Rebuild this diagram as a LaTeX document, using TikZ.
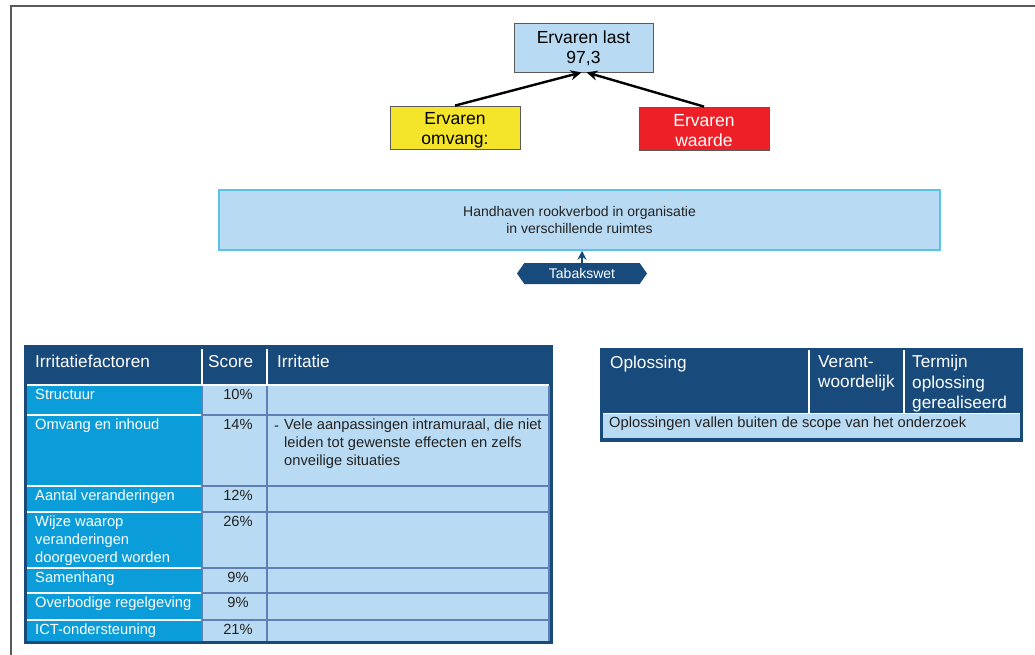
\documentclass[tikz,border=0pt]{standalone}
\usepackage{fontspec}
\setmainfont{Liberation Sans}
\usetikzlibrary{arrows.meta,shapes.symbols}
\definecolor{dkblue}{HTML}{184A7C}
\definecolor{cyanb}{HTML}{0A9DD9}
\definecolor{ltblue}{HTML}{B8DAF2}
\definecolor{gridc}{HTML}{5E80B4}
\definecolor{yelb}{HTML}{F5E52A}
\definecolor{redb}{HTML}{ED2028}
\definecolor{framec}{HTML}{5A5A5A}
\definecolor{hhborder}{HTML}{5BC3EA}
\definecolor{txt}{HTML}{222222}
\tikzset{
  topbox/.style={draw=framec, line width=0.8pt, minimum width=130pt, minimum height=43pt, align=center, inner sep=0pt, font=\fontsize{17.5}{20}\selectfont},
  hdr/.style={anchor=base west, inner sep=0pt, text=white, font=\fontsize{17.2}{20.5}\selectfont, align=left},
  fcell/.style={anchor=north west, inner sep=0pt, text=white, font=\fontsize{14.7}{17.6}\selectfont, align=left},
  scell/.style={anchor=north, inner sep=0pt, text=txt, font=\fontsize{14.7}{17.6}\selectfont},
  icell/.style={anchor=north west, inner sep=0pt, text=txt, font=\fontsize{14.7}{17.6}\selectfont, align=left},
  bigarrow/.style={line width=2.4pt, -{Stealth[length=11pt,width=10pt]}},
}
\begin{document}
\begin{tikzpicture}[x=1pt,y=-1pt]
\useasboundingbox (0,0) rectangle (1035,655);
% page frame
\draw[framec, line width=1.6pt] (1035,6) -- (11,6) -- (11,655);

% top diagram
\node[topbox, fill=ltblue, minimum width=139pt, minimum height=49pt] (last) at (583.5,47.5) {\rule{0pt}{15pt}Ervaren last\\97,3};
\node[topbox, fill=yelb] (omv) at (455,127.5) {\rule{0pt}{17pt}Ervaren\\omvang:};
\node[topbox, fill=redb, text=white] (waa) at (704,128.5) {\rule{0pt}{17pt}Ervaren\\waarde};
\draw[bigarrow] (omv.north) -- ([xshift=-2pt]last.south);
\draw[bigarrow] (waa.north) -- ([xshift=3pt]last.south);

% Handhaven box
\node[draw=hhborder, fill=ltblue, line width=1.5pt, minimum width=721pt, minimum height=60pt, inner sep=0pt, align=center, text=txt, font=\fontsize{14}{16.5}\selectfont] (hh) at (579.5,220) {Handhaven rookverbod in organisatie\\in verschillende ruimtes};
\node[signal, signal to=west and east, signal pointer angle=110, fill=dkblue, text=white, minimum width=130pt, minimum height=21pt, inner sep=0pt, font=\fontsize{14}{16}\selectfont] (tab) at (582,273.5) {Tabakswet};
\draw[dkblue, line width=2pt, -{Stealth[length=9pt,width=9pt]}] (tab.north) -- (tab.north |- hh.south);

% left table
\fill[dkblue] (24,345) rectangle (553,644);
\fill[cyanb] (27,385) rectangle (202,641);
\fill[ltblue] (202,385) rectangle (549,641);
\foreach \yy in {415,486,512,568,593,620} {
  \draw[white, line width=2pt] (27,\yy) -- (202,\yy);
  \draw[gridc, line width=1.6pt] (202,\yy) -- (549,\yy);
}
\draw[white, line width=2pt] (27,385) -- (549,385);
\draw[gridc, line width=1.6pt] (202,386) -- (202,641);
\draw[gridc, line width=1.6pt] (267,386) -- (267,641);
\draw[gridc, line width=1.6pt] (549,386) -- (549,641);
\draw[white, line width=1.5pt] (202,349) -- (202,385);
\draw[white, line width=1.5pt] (267,349) -- (267,385);

\node[hdr] (h1) at (35,367) {Irritatiefactoren};
\node[hdr] (h2) at (208,367) {Score};
\node[hdr] (h3) at (277,367) {Irritatie};

\node[fcell] (f1) at (35,389) {Structuur};
\node[fcell] (f2) at (35,419) {Omvang en inhoud};
\node[fcell] (f3) at (35,490) {Aantal veranderingen};
\node[fcell] (f4) at (35,516) {Wijze waarop\\veranderingen\\doorgevoerd worden};
\node[fcell] (f5) at (35,572) {Samenhang};
\node[fcell] (f6) at (35,597) {Overbodige regelgeving};
\node[fcell] (f7) at (35,624) {ICT-ondersteuning};

\node[scell] (s1) at (238,389) {10\%};
\node[scell] (s2) at (238,419) {14\%};
\node[scell] (s3) at (238,490) {12\%};
\node[scell] (s4) at (238,516) {26\%};
\node[scell] (s5) at (238,572) {9\%};
\node[scell] (s6) at (238,597) {9\%};
\node[scell] (s7) at (238,624) {21\%};

\node[icell, anchor=base west] (dash) at (274,430) {-};
\node[icell] (i2) at (284,419) {Vele aanpassingen intramuraal, die niet\\leiden tot gewenste effecten en zelfs\\onveilige situaties};

% right table
\fill[dkblue] (600,348) rectangle (1023,442);
\fill[ltblue] (603,413) rectangle (1020,438);
\draw[white, line width=1pt] (603,413) -- (1020,413);
\draw[white, line width=1.5pt] (809,350) -- (809,413);
\draw[white, line width=1.5pt] (904,350) -- (904,413);
\node[hdr] (o1) at (610,368) {Oplossing};
\node[hdr, anchor=north west] (o2) at (818,355) {Verant-\\woordelijk};
\node[hdr, anchor=north west] (o3) at (912,355) {Termijn\\oplossing\\gerealiseerd};
\node[icell, anchor=base west] (o4) at (609,427) {Oplossingen vallen buiten de scope van het onderzoek};
\end{tikzpicture}
\end{document}
